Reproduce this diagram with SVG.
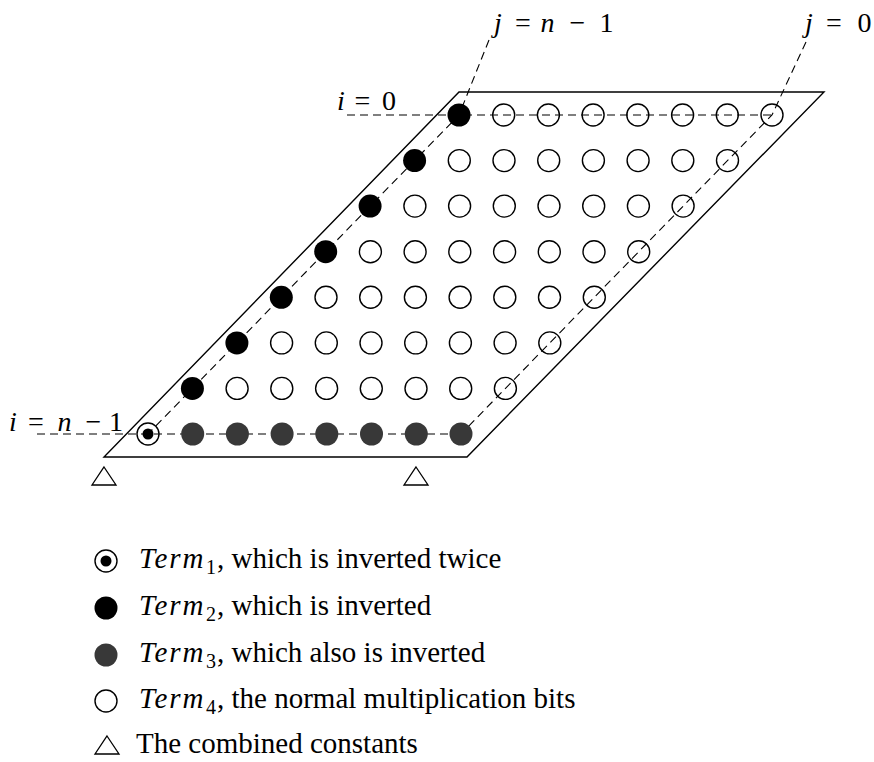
<svg xmlns="http://www.w3.org/2000/svg" xmlns:xlink="http://www.w3.org/1999/xlink" width="874" height="762" viewBox="0 0 874 762">
<style>
.frame{fill:none;stroke:#000;stroke-width:1.4;stroke-linejoin:miter}
.dash{fill:none;stroke:#000;stroke-width:1.1;stroke-dasharray:8 5}
.open{fill:none;stroke:#000;stroke-width:1.4}
.blk{fill:#000}
.gray{fill:#383838}
.tri{fill:none;stroke:#000;stroke-width:1.3;stroke-linejoin:miter}
.math{font-family:"Liberation Serif","Times New Roman",serif;font-size:28px;fill:#000}
.mi{font-style:italic}
.lg{font-family:"Liberation Serif","Times New Roman",serif;font-size:29px;fill:#000}
.term{font-family:"Liberation Serif","Times New Roman",serif;font-size:29px;font-style:italic;letter-spacing:2px;fill:#000}
.sub{font-family:"Liberation Serif","Times New Roman",serif;font-size:20px;fill:#000}
</style>
<defs>
<circle id="c-open" r="11" class="open"/>
<circle id="c-blk" r="11.5" class="blk"/>
<circle id="c-gray" r="11.5" class="gray"/>
<g id="c-t1"><circle r="11" class="open"/><circle r="5.5" class="blk"/></g>
<path id="tri" d="M0,0 L12,18 L-12,18 Z" class="tri"/>
</defs>

<g id="frame">
<path class="frame" d="M459,92 L824,92 L467,457 L104,457 Z"/>
</g>

<g id="connectors">
<path class="dash" d="M347,115 L772,115"/>
<path class="dash" d="M37,434 L461,434"/>
<path class="dash" d="M489,40 L459,115 L148,434"/>
<path class="dash" d="M806,42 L772,115 L461,434"/>
</g>

<g id="labels">
<text class="math" y="32"><tspan class="mi" x="498" text-anchor="middle">j</tspan><tspan x="523" text-anchor="middle">=</tspan><tspan class="mi" x="547.5" text-anchor="middle">n</tspan><tspan x="577.5" text-anchor="middle">−</tspan><tspan x="606.5" text-anchor="middle">1</tspan></text>
<text class="math" y="32"><tspan class="mi" x="809" text-anchor="middle">j</tspan><tspan x="834" text-anchor="middle">=</tspan><tspan x="864.5" text-anchor="middle">0</tspan></text>
<text class="math" y="110"><tspan class="mi" x="341" text-anchor="middle">i</tspan><tspan x="362.5" text-anchor="middle">=</tspan><tspan x="389" text-anchor="middle">0</tspan></text>
<text class="math" y="431"><tspan class="mi" x="13" text-anchor="middle">i</tspan><tspan x="36" text-anchor="middle">=</tspan><tspan class="mi" x="64.5" text-anchor="middle">n</tspan><tspan x="93.5" text-anchor="middle">−</tspan><tspan x="116" text-anchor="middle">1</tspan></text>
</g>

<g id="nodes">
<g id="n-0-0"><use xlink:href="#c-blk" x="459" y="115"/></g>
<g id="n-0-1"><use xlink:href="#c-open" x="503.7" y="115"/></g>
<g id="n-0-2"><use xlink:href="#c-open" x="548.4" y="115"/></g>
<g id="n-0-3"><use xlink:href="#c-open" x="593.1" y="115"/></g>
<g id="n-0-4"><use xlink:href="#c-open" x="637.8" y="115"/></g>
<g id="n-0-5"><use xlink:href="#c-open" x="682.6" y="115"/></g>
<g id="n-0-6"><use xlink:href="#c-open" x="727.3" y="115"/></g>
<g id="n-0-7"><use xlink:href="#c-open" x="772" y="115"/></g>

<g id="n-1-0"><use xlink:href="#c-blk" x="414.6" y="160.6"/></g>
<g id="n-1-1"><use xlink:href="#c-open" x="459.3" y="160.6"/></g>
<g id="n-1-2"><use xlink:href="#c-open" x="504" y="160.6"/></g>
<g id="n-1-3"><use xlink:href="#c-open" x="548.7" y="160.6"/></g>
<g id="n-1-4"><use xlink:href="#c-open" x="593.4" y="160.6"/></g>
<g id="n-1-5"><use xlink:href="#c-open" x="638.1" y="160.6"/></g>
<g id="n-1-6"><use xlink:href="#c-open" x="682.8" y="160.6"/></g>
<g id="n-1-7"><use xlink:href="#c-open" x="727.5" y="160.6"/></g>

<g id="n-2-0"><use xlink:href="#c-blk" x="370.1" y="206.1"/></g>
<g id="n-2-1"><use xlink:href="#c-open" x="414.9" y="206.1"/></g>
<g id="n-2-2"><use xlink:href="#c-open" x="459.6" y="206.1"/></g>
<g id="n-2-3"><use xlink:href="#c-open" x="504.3" y="206.1"/></g>
<g id="n-2-4"><use xlink:href="#c-open" x="549" y="206.1"/></g>
<g id="n-2-5"><use xlink:href="#c-open" x="593.7" y="206.1"/></g>
<g id="n-2-6"><use xlink:href="#c-open" x="638.4" y="206.1"/></g>
<g id="n-2-7"><use xlink:href="#c-open" x="683.1" y="206.1"/></g>

<g id="n-3-0"><use xlink:href="#c-blk" x="325.7" y="251.7"/></g>
<g id="n-3-1"><use xlink:href="#c-open" x="370.4" y="251.7"/></g>
<g id="n-3-2"><use xlink:href="#c-open" x="415.1" y="251.7"/></g>
<g id="n-3-3"><use xlink:href="#c-open" x="459.8" y="251.7"/></g>
<g id="n-3-4"><use xlink:href="#c-open" x="504.6" y="251.7"/></g>
<g id="n-3-5"><use xlink:href="#c-open" x="549.3" y="251.7"/></g>
<g id="n-3-6"><use xlink:href="#c-open" x="594" y="251.7"/></g>
<g id="n-3-7"><use xlink:href="#c-open" x="638.7" y="251.7"/></g>

<g id="n-4-0"><use xlink:href="#c-blk" x="281.3" y="297.3"/></g>
<g id="n-4-1"><use xlink:href="#c-open" x="326" y="297.3"/></g>
<g id="n-4-2"><use xlink:href="#c-open" x="370.7" y="297.3"/></g>
<g id="n-4-3"><use xlink:href="#c-open" x="415.4" y="297.3"/></g>
<g id="n-4-4"><use xlink:href="#c-open" x="460.1" y="297.3"/></g>
<g id="n-4-5"><use xlink:href="#c-open" x="504.8" y="297.3"/></g>
<g id="n-4-6"><use xlink:href="#c-open" x="549.5" y="297.3"/></g>
<g id="n-4-7"><use xlink:href="#c-open" x="594.3" y="297.3"/></g>

<g id="n-5-0"><use xlink:href="#c-blk" x="236.9" y="342.9"/></g>
<g id="n-5-1"><use xlink:href="#c-open" x="281.6" y="342.9"/></g>
<g id="n-5-2"><use xlink:href="#c-open" x="326.3" y="342.9"/></g>
<g id="n-5-3"><use xlink:href="#c-open" x="371" y="342.9"/></g>
<g id="n-5-4"><use xlink:href="#c-open" x="415.7" y="342.9"/></g>
<g id="n-5-5"><use xlink:href="#c-open" x="460.4" y="342.9"/></g>
<g id="n-5-6"><use xlink:href="#c-open" x="505.1" y="342.9"/></g>
<g id="n-5-7"><use xlink:href="#c-open" x="549.8" y="342.9"/></g>

<g id="n-6-0"><use xlink:href="#c-blk" x="192.4" y="388.4"/></g>
<g id="n-6-1"><use xlink:href="#c-open" x="237.1" y="388.4"/></g>
<g id="n-6-2"><use xlink:href="#c-open" x="281.8" y="388.4"/></g>
<g id="n-6-3"><use xlink:href="#c-open" x="326.6" y="388.4"/></g>
<g id="n-6-4"><use xlink:href="#c-open" x="371.3" y="388.4"/></g>
<g id="n-6-5"><use xlink:href="#c-open" x="416" y="388.4"/></g>
<g id="n-6-6"><use xlink:href="#c-open" x="460.7" y="388.4"/></g>
<g id="n-6-7"><use xlink:href="#c-open" x="505.4" y="388.4"/></g>

<g id="n-7-0"><use xlink:href="#c-t1" x="148" y="434"/></g>
<g id="n-7-1"><use xlink:href="#c-gray" x="192.7" y="434"/></g>
<g id="n-7-2"><use xlink:href="#c-gray" x="237.4" y="434"/></g>
<g id="n-7-3"><use xlink:href="#c-gray" x="282.1" y="434"/></g>
<g id="n-7-4"><use xlink:href="#c-gray" x="326.8" y="434"/></g>
<g id="n-7-5"><use xlink:href="#c-gray" x="371.5" y="434"/></g>
<g id="n-7-6"><use xlink:href="#c-gray" x="416.3" y="434"/></g>
<g id="n-7-7"><use xlink:href="#c-gray" x="461" y="434"/></g>

<g id="const-left"><use xlink:href="#tri" x="104" y="467"/></g>
<g id="const-right"><use xlink:href="#tri" x="416" y="467"/></g>
</g>

<g id="legend">
<g id="legend-term1">
<use xlink:href="#c-t1" x="106" y="561"/>
<text class="term" x="139" y="568">Term</text>
<text class="sub" x="206" y="574">1</text>
<text class="lg" x="217" y="568">, which is inverted twice</text>
</g>
<g id="legend-term2">
<use xlink:href="#c-blk" x="106" y="608"/>
<text class="term" x="139" y="615">Term</text>
<text class="sub" x="206" y="621">2</text>
<text class="lg" x="217" y="615">, which is inverted</text>
</g>
<g id="legend-term3">
<use xlink:href="#c-gray" x="106" y="655"/>
<text class="term" x="139" y="662">Term</text>
<text class="sub" x="206" y="668">3</text>
<text class="lg" x="217" y="662">, which also is inverted</text>
</g>
<g id="legend-term4">
<use xlink:href="#c-open" x="106" y="701"/>
<text class="term" x="139" y="708">Term</text>
<text class="sub" x="206" y="714">4</text>
<text class="lg" x="217" y="708">, the normal multiplication bits</text>
</g>
<g id="legend-const">
<use xlink:href="#tri" x="107" y="736"/>
<text class="lg" x="136" y="753">The combined constants</text>
</g>
</g>
</svg>
